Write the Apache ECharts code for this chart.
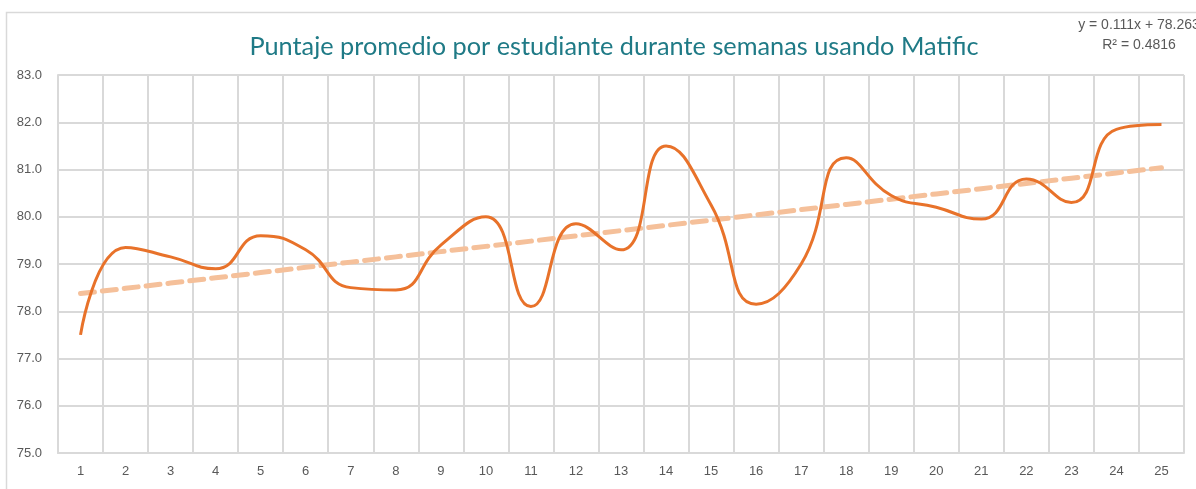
<!DOCTYPE html>
<html>
<head>
<meta charset="utf-8">
<script src="https://cdn.jsdelivr.net/npm/echarts@6/dist/echarts.min.js"></script>
<style>
  html, body { margin: 0; padding: 0; background: #fff; }
  #chart { width: 1196px; height: 489px; }
</style>
</head>
<body>
<div id="chart"></div>
<script>
// semanas 1..25
const weeks = ['1', '2', '3', '4', '5', '6', '7', '8', '9', '10', '11', '12', '13',
  '14', '15', '16', '17', '18', '19', '20', '21', '22', '23', '24', '25']
// puntaje promedio por semana
const scores = [77.5, 79.35, 79.15, 78.9, 79.6, 79.3, 78.5, 78.45, 79.4, 80.0, 78.1, 79.85, 79.3,
  81.5, 80.25, 78.15, 79.0, 81.25, 80.45, 80.2, 79.95, 80.8, 80.3, 81.85, 81.95]
// linea de tendencia mostrada en el grafico: y = 0.111x + 78.263
const trendSlope = 0.111
const trendIntercept = 78.263
const trendLabel = ['y = 0.111x + 78.263', 'R² = 0.4816']

const trend = weeks.map((w, i) => +(trendIntercept + trendSlope * (i + 1)).toFixed(3))

const chart = echarts.init(document.getElementById('chart'))
const gridColor = '#d9d9d9'
const textColor = '#595959'

chart.setOption({
  animation: false,
  title: {
    text: 'Puntaje promedio por estudiante durante semanas usando Matific',
    left: 609,
    textAlign: 'center',
    top: 29,
    textStyle: { color: '#1f7a86', fontSize: 25.3, fontWeight: 'normal', fontFamily: 'Lato' }
  },
  graphic: [
    {
      type: 'rect',
      shape: { x: 6.5, y: 12.5, width: 1300, height: 600 },
      style: { fill: 'none', stroke: gridColor, lineWidth: 1.5 },
      silent: true
    },
    {
      type: 'text',
      x: 1139,
      y: 15,
      silent: true,
      style: {
        text: trendLabel.join('\n'),
        fill: textColor,
        font: '14px "Liberation Sans"',
        align: 'center',
        verticalAlign: 'top',
        lineHeight: 20
      }
    }
  ],
  grid: { left: 58, right: 12, top: 75, bottom: 36 },
  xAxis: {
    type: 'category',
    data: weeks,
    boundaryGap: true,
    axisLine: { lineStyle: { color: gridColor, width: 2 } },
    axisTick: { show: false },
    axisLabel: { color: textColor, fontSize: 13, margin: 12, fontFamily: 'Liberation Sans' },
    splitLine: { show: true, interval: 0, lineStyle: { color: gridColor, width: 2 } }
  },
  yAxis: {
    type: 'value',
    min: 75,
    max: 83,
    interval: 1,
    axisLine: { show: true, lineStyle: { color: gridColor, width: 2 } },
    axisTick: { show: false },
    axisLabel: {
      color: textColor,
      fontSize: 13,
      margin: 16,
      fontFamily: 'Liberation Sans',
      formatter: v => v.toFixed(1)
    },
    splitLine: { show: true, lineStyle: { color: gridColor, width: 2 } }
  },
  series: [
    {
      name: 'Tendencia',
      type: 'line',
      data: trend,
      symbol: 'none',
      z: 2,
      lineStyle: { color: '#f5c09a', width: 5, type: [14, 8], cap: 'round' }
    },
    {
      name: 'Puntaje',
      type: 'line',
      data: scores,
      smooth: 0.5,
      symbol: 'none',
      z: 3,
      lineStyle: { color: '#e8722a', width: 3 }
    }
  ]
})
</script>
</body>
</html>
